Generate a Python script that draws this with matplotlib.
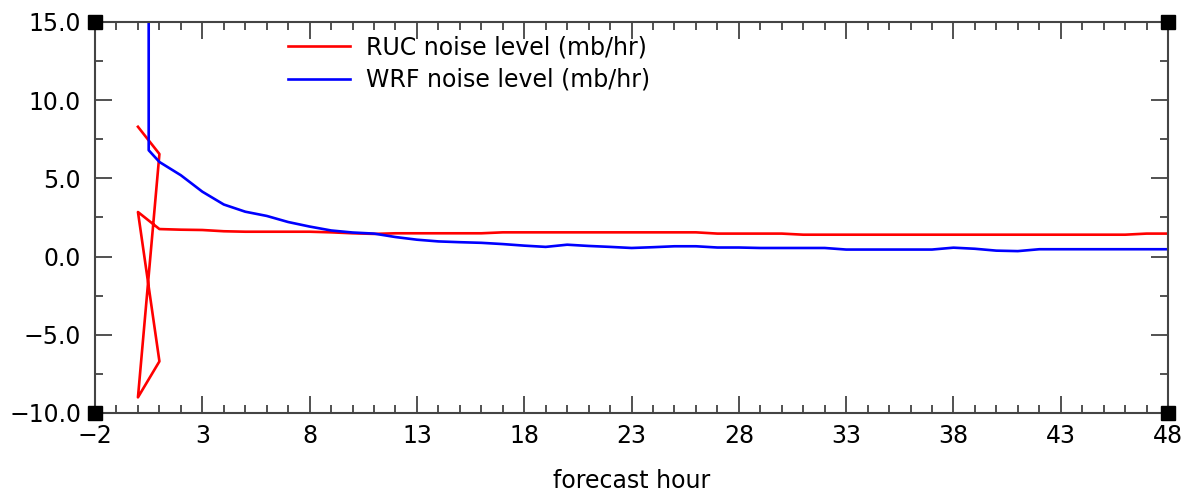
import matplotlib
matplotlib.use("Agg")
import matplotlib.pyplot as plt
from matplotlib.ticker import MultipleLocator, FixedLocator

# RUC noise level: first hour loops back and forth between x=0 and x=1
ruc_hour = [0, 1, 0, 1, 0, 1, 2, 3, 4, 5, 6, 7, 8, 9, 10, 11, 12, 13, 14, 15, 16,
            17, 18, 19, 20, 21, 22, 23, 24, 25, 26, 27, 28, 29, 30, 31, 32,
            33, 34, 35, 36, 37, 38, 39, 40, 41, 42, 43, 44, 45, 46, 47, 48]
ruc_noise = [8.3, 6.56, -9.0, -6.7, 2.85, 1.76, 1.72, 1.70, 1.62, 1.59, 1.59, 1.59, 1.59,
             1.55, 1.49, 1.45, 1.49, 1.49, 1.49, 1.49, 1.49,
             1.55, 1.55, 1.55, 1.55, 1.55, 1.55, 1.55, 1.55, 1.55, 1.55, 1.47, 1.47, 1.47, 1.47,
             1.40, 1.40, 1.40, 1.40, 1.40, 1.40, 1.40, 1.40, 1.40, 1.40, 1.40, 1.40, 1.40,
             1.40, 1.40, 1.40, 1.47, 1.47]

# WRF noise level: huge spike at the start (clipped at top)
wrf_hour = [0.5, 0.5, 1, 2, 3, 4, 5, 6, 7, 8, 9, 10, 11, 12, 13, 14, 15, 16,
            17, 18, 19, 20, 21, 22, 23, 24, 25, 26, 27, 28, 29, 30, 31, 32,
            33, 34, 35, 36, 37, 38, 39, 40, 41, 42, 43, 44, 45, 46, 47, 48]
wrf_noise = [40.0, 6.8, 6.05, 5.2, 4.15, 3.33, 2.87, 2.6, 2.21, 1.92, 1.67, 1.54, 1.47,
             1.25, 1.08, 0.97, 0.92, 0.88, 0.80, 0.70, 0.62, 0.76, 0.68, 0.62, 0.55,
             0.60, 0.66, 0.66, 0.58, 0.58, 0.55, 0.55, 0.55, 0.55,
             0.45, 0.45, 0.45, 0.45, 0.45, 0.57, 0.50, 0.38, 0.35,
             0.47, 0.47, 0.47, 0.47, 0.47, 0.47, 0.47]

x_major = [-2, 3, 8, 13, 18, 23, 28, 33, 38, 43, 48]
y_major = [-10.0, -5.0, 0.0, 5.0, 10.0, 15.0]

plt.rcParams['font.family'] = 'DejaVu Sans'
FS = 17

fig = plt.figure(figsize=(11.85, 4.91), dpi=100)
ax = fig.add_axes([0.0802, 0.1589, 0.9055, 0.7963])

ax.plot(ruc_hour, ruc_noise, color='#ff0000', lw=1.9, label='RUC noise level (mb/hr)')
ax.plot(wrf_hour, wrf_noise, color='#0000ff', lw=1.9, label='WRF noise level (mb/hr)')

ax.set_xlim(-2, 48)
ax.set_ylim(-10, 15)

ax.xaxis.set_major_locator(FixedLocator(x_major))
ax.xaxis.set_minor_locator(MultipleLocator(1))
ax.yaxis.set_major_locator(FixedLocator(y_major))
ax.yaxis.set_minor_locator(MultipleLocator(2.5))
ax.set_xticklabels([str(v).replace('-', '\u2212') for v in x_major])
ax.set_yticklabels([f"{v:.1f}".replace('-', '\u2212') for v in y_major])

ax.tick_params(which='both', direction='in', top=True, right=True,
               color='#333333', labelsize=FS, width=1.2)
ax.tick_params(which='major', length=12.5)
ax.tick_params(which='minor', length=6)
ax.tick_params(axis='x', pad=8)
ax.tick_params(axis='y', pad=10)

for s in ax.spines.values():
    s.set_color('#444444')
    s.set_linewidth(1.5)

ax.set_xlabel('forecast hour', fontsize=FS, labelpad=15)

# black squares at the corners
ax.plot([-2, 48, -2, 48], [15, 15, -10, -10], ls='none', marker='s',
        ms=10, color='black', clip_on=False, zorder=5)

leg = ax.legend(loc='upper left', bbox_to_anchor=(0.18, 0.965), frameon=False,
                fontsize=FS, handlelength=2.6, handletextpad=0.7,
                labelspacing=0.35, borderpad=0, borderaxespad=0)

fig.savefig('out.png', dpi=100)
